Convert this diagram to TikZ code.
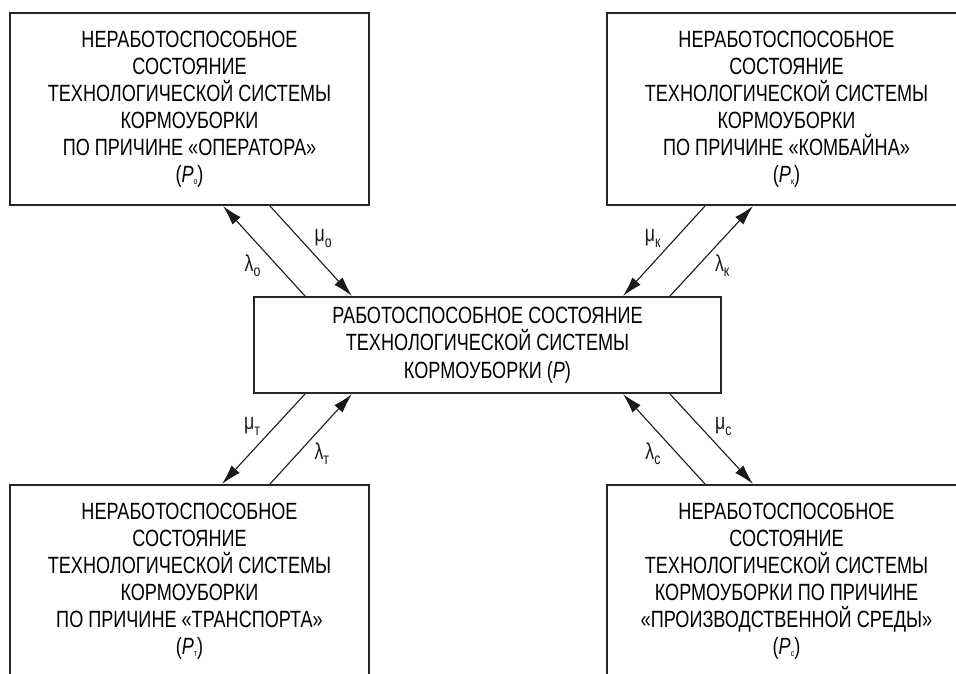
\documentclass[tikz,border=0pt]{standalone}
\usepackage{fontspec}
\setmainfont[FakeStretch=0.77]{Liberation Sans}
\usetikzlibrary{arrows.meta,positioning,calc}
\newcommand{\lowidx}[1]{\raisebox{-0.45ex}{\fontsize{16}{16}\selectfont #1}}
\newcommand{\tinyidx}[1]{\raisebox{-0.2ex}{\fontsize{9}{9}\selectfont #1}}

\begin{document}
\begin{tikzpicture}[x=1pt, y=-1pt, >={Latex[length=20pt,width=11pt]},
    box/.style={draw=black!85, line width=2pt, minimum width=359pt,
                minimum height=192pt, align=center, inner sep=0pt,
                font=\fontsize{23.5}{27}\selectfont},
    arr/.style={->, line width=1.1pt, black!90},
    lbl/.style={font=\fontsize{23}{23}\selectfont, inner sep=3pt, black!90}]
  \useasboundingbox (0,0) rectangle (956,673);
  \clip (0,0) rectangle (956,673);
  \node[box, minimum width=467pt, minimum height=96pt, font=\fontsize{23.5}{27.5}\selectfont] (work) at (487.5,345)
    {РАБОТОСПОСОБНОЕ СОСТОЯНИЕ\\ТЕХНОЛОГИЧЕСКОЙ СИСТЕМЫ\\КОРМОУБОРКИ (\textit{P})};
  \node[box] (oper) at (189.5,109)
    {НЕРАБОТОСПОСОБНОЕ\\СОСТОЯНИЕ\\ТЕХНОЛОГИЧЕСКОЙ СИСТЕМЫ\\КОРМОУБОРКИ\\ПО ПРИЧИНЕ «ОПЕРАТОРА»\\(\textit{P}\tinyidx{о})};
  \node[box] (komb) at (786.5,109)
    {НЕРАБОТОСПОСОБНОЕ\\СОСТОЯНИЕ\\ТЕХНОЛОГИЧЕСКОЙ СИСТЕМЫ\\КОРМОУБОРКИ\\ПО ПРИЧИНЕ «КОМБАЙНА»\\(\textit{P}\tinyidx{к})};
  \node[box] (trans) at (189.5,581)
    {НЕРАБОТОСПОСОБНОЕ\\СОСТОЯНИЕ\\ТЕХНОЛОГИЧЕСКОЙ СИСТЕМЫ\\КОРМОУБОРКИ\\ПО ПРИЧИНЕ «ТРАНСПОРТА»\\(\textit{P}\tinyidx{т})};
  \node[box] (sreda) at (786.5,581)
    {НЕРАБОТОСПОСОБНОЕ\\СОСТОЯНИЕ\\ТЕХНОЛОГИЧЕСКОЙ СИСТЕМЫ\\КОРМОУБОРКИ ПО ПРИЧИНЕ\\«ПРОИЗВОДСТВЕННОЙ СРЕДЫ»\\(\textit{P}\tinyidx{с})};
  \draw[arr] ($(oper.south)+(80.5,0)$) -- node[lbl, above right] {μ\lowidx{о}} ($(work.north)+(-135.5,0)$);
  \draw[arr] ($(work.north)+(-182.5,0)$) -- node[lbl, below left] {λ\lowidx{о}} ($(oper.south)+(33.5,0)$);
  \draw[arr] ($(komb.south)+(-81.5,0)$) -- node[lbl, above left] {μ\lowidx{к}} ($(work.north)+(135.5,0)$);
  \draw[arr] ($(work.north)+(182.5,0)$) -- node[lbl, below right] {λ\lowidx{к}} ($(komb.south)+(-33.5,0)$);
  \draw[arr] ($(work.south)+(-182.5,0)$) -- node[lbl, above left] {μ\lowidx{т}} ($(trans.north)+(32.5,0)$);
  \draw[arr] ($(trans.north)+(80.5,0)$) -- node[lbl, below right] {λ\lowidx{т}} ($(work.south)+(-135.5,0)$);
  \draw[arr] ($(sreda.north)+(-81.5,0)$) -- node[lbl, below left] {λ\lowidx{с}} ($(work.south)+(135.5,0)$);
  \draw[arr] ($(work.south)+(182.5,0)$) -- node[lbl, above right] {μ\lowidx{с}} ($(sreda.north)+(-33.5,0)$);
\end{tikzpicture}
\end{document}
